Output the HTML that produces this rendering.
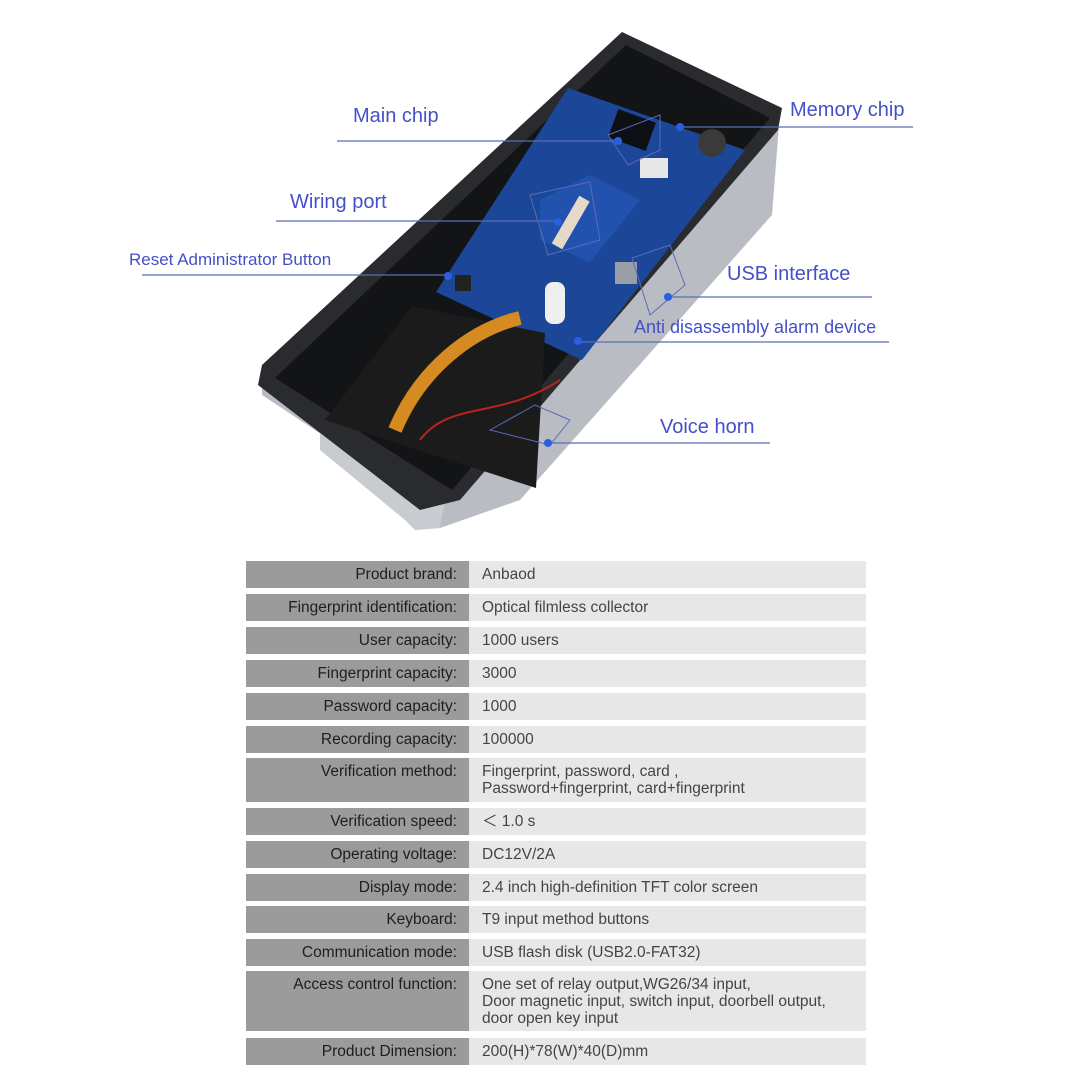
<!DOCTYPE html>
<html><head><meta charset="utf-8"><style>
html,body{margin:0;padding:0;background:#fff;}
body{width:1084px;height:1083px;position:relative;overflow:hidden;font-family:"Liberation Sans","DejaVu Sans",sans-serif;}
.lbl{position:absolute;color:#4450c8;font-size:20px;white-space:nowrap;line-height:1;}
.row{position:absolute;left:246px;width:620px;}
.row .k{position:absolute;left:0;top:0;bottom:0;width:223px;background:#9b9b9b;color:#1e1e1e;font-size:15.5px;text-align:right;box-sizing:border-box;padding-right:12px;padding-top:5px;}
.row .v{position:absolute;left:223px;top:0;bottom:0;right:0;background:#e7e7e7;color:#444;font-size:15.5px;box-sizing:border-box;padding-left:13px;padding-top:5px;line-height:17px;}
</style></head><body>
<svg width="1084" height="560" style="position:absolute;left:0;top:0">
  <polygon points="262,370 780,112 772,215 520,500 440,528 415,530 410,505 330,440 262,395" fill="#b9bcc2"/>
  <polygon points="320,420 445,500 440,528 415,530 405,520 320,450" fill="#c8cbd0"/>
  <polygon points="622,32 782,108 778,130 460,500 420,510 258,385 262,365" fill="#2a2b2e"/>
  <polygon points="626,45 770,118 452,490 275,378" fill="#131416"/>
  <polygon points="568,88 745,150 582,360 436,292" fill="#1c4698"/>
  <polygon points="540,200 590,175 640,200 590,262 540,240" fill="#2152ad"/>
  <rect x="612" y="115" width="40" height="30" fill="#0d0f14" transform="rotate(20 632 130)"/>
  <circle cx="712" cy="143" r="14" fill="#3a3a3a"/>
  <rect x="640" y="158" width="28" height="20" fill="#e8e8e8"/>
  <rect x="565" y="195" width="12" height="55" fill="#e6d9c8" transform="rotate(30 571 222)"/>
  <rect x="545" y="282" width="20" height="42" rx="8" fill="#efefef"/>
  <rect x="615" y="262" width="22" height="22" fill="#9a9ea6"/>
  <rect x="455" y="275" width="16" height="16" fill="#222"/>
  <polygon points="412,306 545,333 536,488 325,420" fill="#1b1b1c"/>
  <path d="M520,318 C470,330 420,370 395,430" stroke="#d68a22" stroke-width="14" fill="none"/>
  <path d="M420,440 C450,400 500,420 560,380" stroke="#b22" stroke-width="2" fill="none"/>
  <g stroke="#5a6cb8" stroke-width="1.3" fill="none">
    <line x1="337" y1="141" x2="618" y2="141"/>
    <line x1="680" y1="127" x2="913" y2="127"/>
    <line x1="276" y1="221" x2="558" y2="221"/>
    <line x1="142" y1="275" x2="448" y2="275"/>
    <line x1="668" y1="297" x2="872" y2="297"/>
    <line x1="578" y1="342" x2="889" y2="342"/>
    <line x1="548" y1="443" x2="770" y2="443"/>
    <polygon points="608,135 660,115 660,150 628,165" stroke-width="1"/>
    <polygon points="530,195 590,182 600,240 548,255" stroke-width="1"/>
    <polygon points="632,258 670,245 685,285 650,315" stroke-width="1"/>
    <polygon points="490,430 535,405 570,420 550,445" stroke-width="1"/>
  </g>
  <g fill="#2a5fe0">
    <circle cx="618" cy="141" r="4"/><circle cx="680" cy="127" r="4"/>
    <circle cx="558" cy="222" r="4"/><circle cx="448" cy="276" r="4"/>
    <circle cx="668" cy="297" r="4"/><circle cx="578" cy="341" r="4"/>
    <circle cx="548" cy="443" r="4"/>
  </g>
</svg>
<div class="lbl" style="left:353px;top:106px;">Main chip</div>
<div class="lbl" style="left:790px;top:100px;">Memory chip</div>
<div class="lbl" style="left:290px;top:192px;">Wiring port</div>
<div class="lbl" style="left:129px;top:251px;font-size:17px;">Reset Administrator Button</div>
<div class="lbl" style="left:727px;top:264px;">USB interface</div>
<div class="lbl" style="left:634px;top:318px;font-size:18px;">Anti disassembly alarm device</div>
<div class="lbl" style="left:660px;top:417px;">Voice horn</div>

<div class="row" style="top:561px;height:27px"><div class="k">Product brand:</div><div class="v">Anbaod</div></div>
<div class="row" style="top:594px;height:27px"><div class="k">Fingerprint identification:</div><div class="v">Optical filmless collector</div></div>
<div class="row" style="top:627px;height:27px"><div class="k">User capacity:</div><div class="v">1000 users</div></div>
<div class="row" style="top:660px;height:27px"><div class="k">Fingerprint capacity:</div><div class="v">3000</div></div>
<div class="row" style="top:693px;height:27px"><div class="k">Password capacity:</div><div class="v">1000</div></div>
<div class="row" style="top:726px;height:27px"><div class="k">Recording capacity:</div><div class="v">100000</div></div>
<div class="row" style="top:758px;height:44px"><div class="k">Verification method:</div><div class="v">Fingerprint, password, card ,<br>Password+fingerprint, card+fingerprint</div></div>
<div class="row" style="top:808px;height:27px"><div class="k">Verification speed:</div><div class="v">＜ 1.0 s</div></div>
<div class="row" style="top:841px;height:27px"><div class="k">Operating voltage:</div><div class="v">DC12V/2A</div></div>
<div class="row" style="top:874px;height:27px"><div class="k">Display mode:</div><div class="v">2.4 inch high-definition TFT color screen</div></div>
<div class="row" style="top:906px;height:27px"><div class="k">Keyboard:</div><div class="v">T9 input method buttons</div></div>
<div class="row" style="top:939px;height:27px"><div class="k">Communication mode:</div><div class="v">USB flash disk (USB2.0-FAT32)</div></div>
<div class="row" style="top:971px;height:60px"><div class="k">Access control function:</div><div class="v">One set of relay output,WG26/34 input,<br>Door magnetic input, switch input, doorbell output,<br>door open key input</div></div>
<div class="row" style="top:1038px;height:27px"><div class="k">Product Dimension:</div><div class="v">200(H)*78(W)*40(D)mm</div></div>
</body></html>
